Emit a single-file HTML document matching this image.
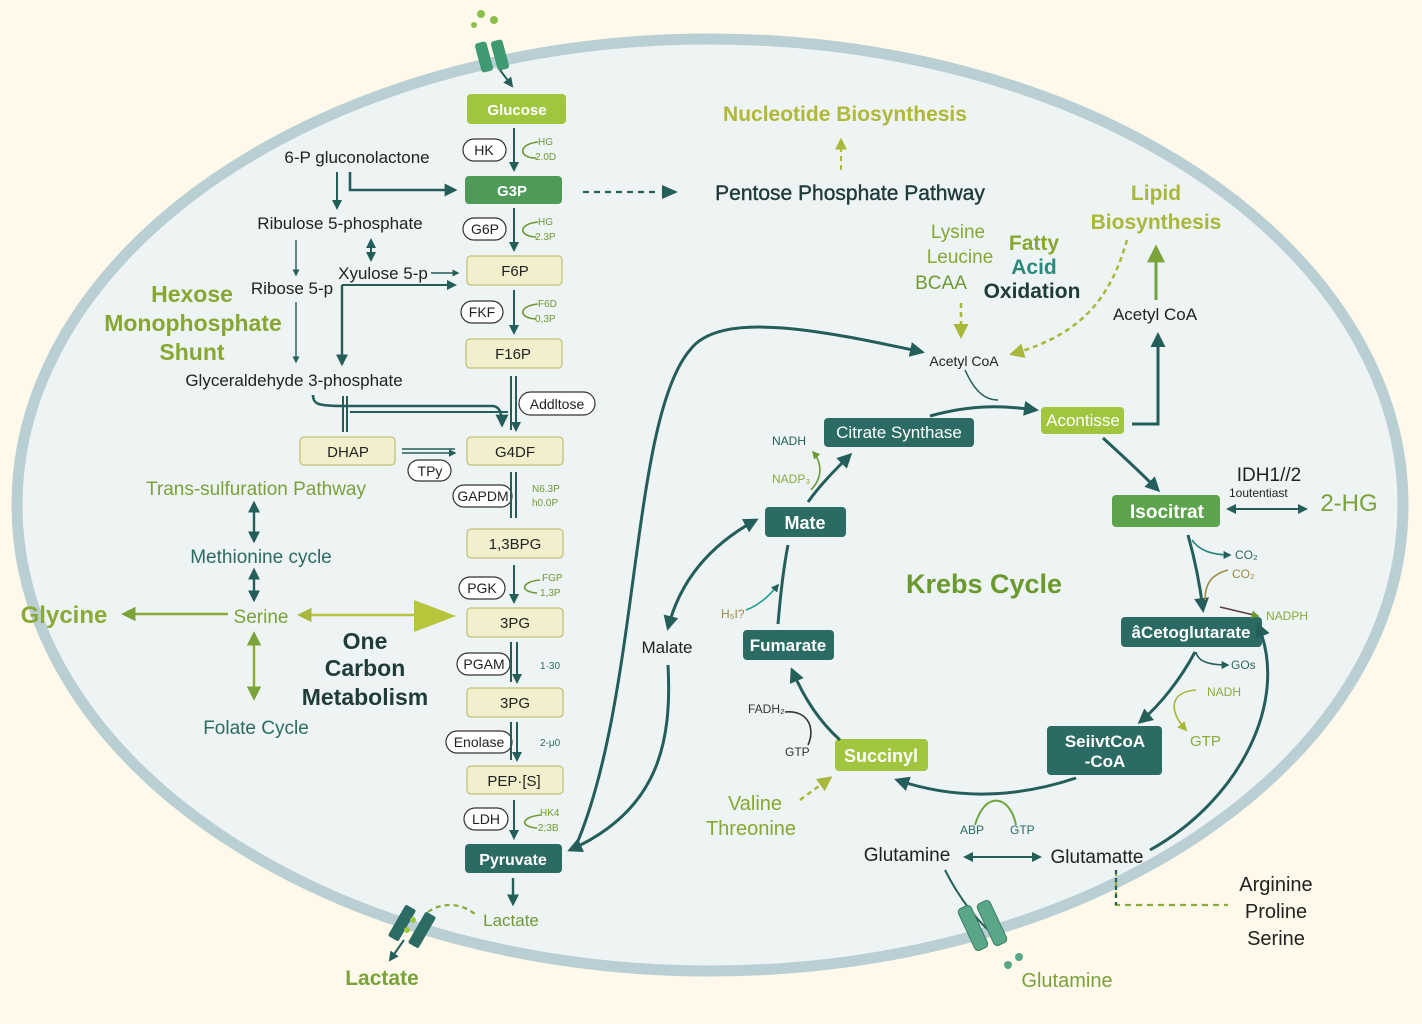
<!DOCTYPE html>
<html><head><meta charset="utf-8"><style>
html,body{margin:0;padding:0;background:#fef9ea;}
svg{display:block;font-family:"Liberation Sans",sans-serif;}
.b{font-weight:bold}
</style></head><body>
<svg width="1422" height="1024" viewBox="0 0 1422 1024" xmlns="http://www.w3.org/2000/svg">
<defs>
<marker id="ad" viewBox="0 0 10 10" refX="8" refY="5" markerWidth="5" markerHeight="5" orient="auto-start-reverse"><path d="M0,0L10,5L0,10z" fill="#245e5a"/></marker>
<marker id="ag" viewBox="0 0 10 10" refX="8" refY="5" markerWidth="6" markerHeight="6" orient="auto-start-reverse"><path d="M0,0L10,5L0,10z" fill="#7aa33a"/></marker>
<marker id="ay" viewBox="0 0 10 10" refX="8" refY="5" markerWidth="6" markerHeight="6" orient="auto-start-reverse"><path d="M0,0L10,5L0,10z" fill="#a9b83a"/></marker>
<marker id="as" viewBox="0 0 10 10" refX="8" refY="5" markerWidth="5" markerHeight="5" orient="auto-start-reverse"><path d="M0,0L10,5L0,10z" fill="#245e5a"/></marker>
<marker id="asg" viewBox="0 0 10 10" refX="8" refY="5" markerWidth="5" markerHeight="5" orient="auto-start-reverse"><path d="M0,0L10,5L0,10z" fill="#6d9a35"/></marker>
</defs>
<rect width="1422" height="1024" fill="#fef9ea"/>
<ellipse cx="710" cy="505" rx="693" ry="466" fill="#eef3f4" stroke="#b9cfd4" stroke-width="11"/>

<g fill="#3f9a72"><rect x="478" y="42" width="12" height="30" rx="3" transform="rotate(-15 484 57)"/><rect x="494" y="40" width="12" height="30" rx="3" transform="rotate(-15 500 55)"/>
<circle cx="481" cy="14" r="4" fill="#8cc04a"/><circle cx="494" cy="20" r="4" fill="#8cc04a"/><circle cx="474" cy="25" r="3" fill="#8cc04a"/></g>
<path d="M500 70 L512 86" stroke="#245e5a" stroke-width="2" marker-end="url(#as)"/>

<g font-size="15" text-anchor="middle">
<rect x="467" y="94" width="99" height="30" rx="4" fill="#9fc63e"/><text x="517" y="115" fill="#fff" class="b">Glucose</text>
<rect x="465" y="176" width="97" height="28" rx="4" fill="#4e9a56"/><text x="512" y="196" fill="#fff" class="b">G3P</text>
<g fill="#f2f0cc" stroke="#c8c88a" stroke-width="1.5">
<rect x="467" y="256" width="95" height="29" rx="4"/><rect x="466" y="339" width="96" height="29" rx="4"/>
<rect x="467" y="437" width="96" height="28" rx="4"/><rect x="467" y="529" width="96" height="29" rx="4"/>
<rect x="467" y="608" width="96" height="29" rx="4"/><rect x="467" y="688" width="96" height="29" rx="4"/>
<rect x="467" y="766" width="96" height="28" rx="4"/><rect x="300" y="437" width="95" height="28" rx="4"/></g>
<g fill="#222"><text x="515" y="276">F6P</text><text x="513" y="359">F16P</text><text x="515" y="457">G4DF</text><text x="515" y="549">1,3BPG</text><text x="515" y="628">3PG</text><text x="515" y="708">3PG</text><text x="514" y="786">PEP·[S]</text><text x="348" y="457">DHAP</text></g>
<rect x="465" y="844" width="97" height="29" rx="4" fill="#2b6b64"/><text x="513" y="865" fill="#fff" class="b" font-size="16">Pyruvate</text>
<g fill="#fff" stroke="#333" stroke-width="1.2">
<rect x="463" y="139" width="43" height="22" rx="11"/><rect x="463" y="218" width="43" height="22" rx="11"/><rect x="461" y="301" width="42" height="22" rx="11"/>
<rect x="519" y="392" width="76" height="23" rx="11.5"/><rect x="408" y="460" width="43" height="21" rx="10.5"/><rect x="453" y="485" width="59" height="22" rx="11"/>
<rect x="459" y="577" width="46" height="22" rx="11"/><rect x="457" y="653" width="53" height="22" rx="11"/><rect x="446" y="731" width="66" height="22" rx="11"/><rect x="464" y="808" width="44" height="22" rx="11"/></g>
<g fill="#222" font-size="14"><text x="484" y="155">HK</text><text x="485" y="234">G6P</text><text x="482" y="317">FKF</text><text x="557" y="409">Addltose</text><text x="430" y="476">TPy</text><text x="483" y="501">GAPDM</text><text x="482" y="593">PGK</text><text x="484" y="669">PGAM</text><text x="479" y="747">Enolase</text><text x="486" y="824">LDH</text></g>
</g>
<g stroke="#245e5a" stroke-width="2" fill="none">
<path d="M514 128V170" marker-end="url(#as)"/><path d="M514 208V250" marker-end="url(#as)"/><path d="M514 290V333" marker-end="url(#as)"/>
<path d="M511 376V430M516 376V430" marker-end="url(#as)"/><path d="M511 472V518M516 472V518"/><path d="M514 565V602" marker-end="url(#as)"/>
<path d="M511 642V682M517 642V682" marker-end="url(#as)"/><path d="M511 722V760M517 722V760" marker-end="url(#as)"/><path d="M514 800V838" marker-end="url(#as)"/>
<path d="M513 878V904" stroke-width="2.4" marker-end="url(#ad)"/>
</g>
<g stroke="#6d9a35" stroke-width="1.6" fill="none">
<path d="M538 142 C518 144 518 158 536 158" /><path d="M538 222 C518 224 518 236 536 237"/><path d="M538 304 C518 306 518 318 536 319"/>
<path d="M540 580 C520 582 520 592 537 593"/><path d="M541 815 C520 817 520 827 537 828"/>
</g>
<g font-size="10" fill="#6d9a35"><text x="538" y="145">HG</text><text x="535" y="160">2.0D</text><text x="538" y="225">HG</text><text x="535" y="240">2.3P</text><text x="538" y="307">F6D</text><text x="535" y="322">0,3P</text>
<text x="532" y="492">N6.3P</text><text x="532" y="506">h0.0P</text><text x="542" y="581">FGP</text><text x="540" y="596">1,3P</text><text x="540" y="669" fill="#2b6b64">1·30</text><text x="540" y="746" fill="#2b6b64">2-μ0</text><text x="540" y="816">HK4</text><text x="538" y="831">2;3B</text></g>
<text x="511" y="926" font-size="17" fill="#6d9a35" text-anchor="middle">Lactate</text>

<g font-size="17" fill="#222" text-anchor="middle">
<text x="357" y="163">6-P gluconolactone</text><text x="340" y="229">Ribulose 5-phosphate</text><text x="292" y="294">Ribose 5-p</text><text x="383" y="279">Xyulose 5-p</text><text x="294" y="386">Glyceraldehyde 3-phosphate</text></g>
<g stroke="#245e5a" stroke-width="2" fill="none">
<path d="M337 172V208" marker-end="url(#as)"/><path d="M350 172V190H455" stroke-width="2.6" marker-end="url(#ad)"/>
<path d="M371 240V260" marker-end="url(#as)" marker-start="url(#as)"/><path d="M296 240V275" stroke-width="1.4" marker-end="url(#as)"/>
<path d="M431 273H458" stroke-width="1.4" marker-end="url(#as)"/><path d="M342 285H455" marker-end="url(#as)"/><path d="M342 285V364" stroke-width="2.4" marker-end="url(#ad)"/>
<path d="M296 302V362" stroke-width="1.4" marker-end="url(#as)"/>
<path d="M313 395C313 405 320 406 345 406H492C500 406 502 414 502 425" stroke-width="2.6" marker-end="url(#as)"/>
<path d="M343 396V432M347 396V432"/><path d="M350 412H508"/>
<path d="M402 449H455M402 453H455" stroke-width="1.5" marker-end="url(#as)"/>
</g>
<g font-size="23" fill="#86a832" class="b" text-anchor="middle"><text x="192" y="302">Hexose</text><text x="193" y="331">Monophosphate</text><text x="192" y="360">Shunt</text></g>

<text x="256" y="495" font-size="19" fill="#7aa23a" text-anchor="middle">Trans-sulfuration Pathway</text>
<text x="261" y="563" font-size="19" fill="#2b6b64" text-anchor="middle">Methionine cycle</text>
<text x="261" y="623" font-size="19" fill="#7aa23a" text-anchor="middle">Serine</text>
<text x="64" y="623" font-size="24" fill="#8aaa38" class="b" text-anchor="middle">Glycine</text>
<text x="256" y="734" font-size="19" fill="#2b6b64" text-anchor="middle">Folate Cycle</text>
<g font-size="23" fill="#1f3b3a" class="b" text-anchor="middle"><text x="365" y="649">One</text><text x="365" y="676">Carbon</text><text x="365" y="705">Metabolism</text></g>
<g fill="none" stroke-width="2.4">
<path d="M254 503V541" stroke="#245e5a" marker-start="url(#as)" marker-end="url(#as)"/>
<path d="M254 570V600" stroke="#245e5a" marker-start="url(#as)" marker-end="url(#as)"/>
<path d="M228 614H124" stroke="#8aaa38" marker-end="url(#ag)"/>
<path d="M300 615H420" stroke="#b8c43a" marker-start="url(#ay)"/>
<path d="M254 634V698" stroke="#8aaa38" marker-start="url(#ag)" marker-end="url(#ag)"/>
</g>
<path d="M414 600L456 616L414 632z" fill="#b8c43a"/>

<text x="845" y="121" font-size="21" fill="#b0b838" class="b" text-anchor="middle">Nucleotide Biosynthesis</text>
<path d="M841 170V140" stroke="#b0b838" stroke-width="2" stroke-dasharray="5 4" marker-end="url(#ay)"/>
<path d="M583 192H660" stroke="#245e5a" stroke-width="2.2" stroke-dasharray="6 5"/><path d="M662 185L678 192L662 199z" fill="#245e5a"/>
<text x="850" y="200" font-size="21" fill="#1e3a3a" text-anchor="middle" stroke="#1e3a3a" stroke-width="0.4">Pentose Phosphate Pathway</text>
<g font-size="21" fill="#a9b83a" class="b" text-anchor="middle"><text x="1156" y="200">Lipid</text><text x="1156" y="229">Biosynthesis</text></g>
<path d="M1156 300V248" stroke="#6da540" stroke-width="3" marker-end="url(#ag)"/>
<text x="1155" y="320" font-size="17" fill="#222" text-anchor="middle">Acetyl CoA</text>
<g font-size="19" text-anchor="middle"><text x="958" y="238" fill="#86a832">Lysine</text><text x="960" y="263" fill="#86a832">Leucine</text><text x="941" y="289" fill="#6d9a35">BCAA</text></g>
<g font-size="21" class="b" text-anchor="middle"><text x="1034" y="250" fill="#86a832">Fatty</text><text x="1034" y="274" fill="#2b8a80">Acid</text><text x="1032" y="298" fill="#1f3b3a">Oxidation</text></g>
<path d="M961 303V336" stroke="#a9b83a" stroke-width="2.5" stroke-dasharray="5 4" marker-end="url(#ay)"/>
<path d="M1127 240C1110 300 1080 335 1012 354" fill="none" stroke="#a9b83a" stroke-width="2.5" stroke-dasharray="5 4" marker-end="url(#ay)"/>
<text x="964" y="366" font-size="14" fill="#222" text-anchor="middle">Acetyl CoA</text>

<g font-size="17" text-anchor="middle" fill="#fff" class="b">
<rect x="824" y="418" width="150" height="29" rx="4" fill="#2b6b64"/><text x="899" y="438" font-weight="normal">Citrate Synthase</text>
<rect x="1041" y="407" width="83" height="27" rx="4" fill="#9fc63e"/><text x="1083" y="426" font-weight="normal">Acontisse</text>
<rect x="1112" y="495" width="108" height="32" rx="4" fill="#5da24c"/><text x="1167" y="518" font-size="19">Isocitrat</text>
<rect x="1121" y="617" width="141" height="30" rx="4" fill="#2b6b64"/><text x="1191" y="638">âCetoglutarate</text>
<rect x="1047" y="726" width="115" height="49" rx="4" fill="#2b6b64"/><text x="1105" y="747">SeiivtCoA</text><text x="1105" y="767">-CoA</text>
<rect x="835" y="739" width="93" height="32" rx="4" fill="#a0c640"/><text x="881" y="762" font-size="18">Succinyl</text>
<rect x="743" y="630" width="91" height="30" rx="4" fill="#2b6b64"/><text x="788" y="651">Fumarate</text>
<rect x="765" y="507" width="81" height="30" rx="4" fill="#2b6b64"/><text x="805" y="529" font-size="18">Mate</text>
</g>
<text x="984" y="593" font-size="27" fill="#6a9a2e" class="b" text-anchor="middle">Krebs Cycle</text>
<g stroke="#245e5a" stroke-width="3" fill="none">
<path d="M930 416C970 405 1000 405 1036 410" marker-end="url(#ad)"/>
<path d="M965 370C975 392 985 400 998 400" stroke-width="1.5"/>
<path d="M1132 424H1158V335" marker-end="url(#ad)"/>
<path d="M1103 438C1125 458 1140 472 1158 490" marker-end="url(#ad)"/>
<path d="M1188 535C1195 560 1200 585 1203 610" marker-end="url(#ad)"/>
<path d="M1195 652C1180 680 1160 705 1140 722" marker-end="url(#ad)"/>
<path d="M1076 778C1010 800 950 798 897 780" marker-end="url(#ad)"/>
<path d="M840 740C820 722 805 700 792 670" marker-end="url(#ad)"/>
<path d="M778 624C780 600 783 570 788 545"/>
<path d="M808 502C820 485 835 470 850 455" marker-end="url(#ad)"/>
<path d="M575 848C640 700 630 420 690 350C720 310 820 330 922 352" marker-end="url(#ad)"/>
<path d="M668 665C672 740 660 810 570 850" marker-end="url(#ad)"/>
<path d="M668 628C680 580 710 545 756 520" marker-start="url(#ad)" marker-end="url(#ad)"/>
<path d="M1150 850C1240 800 1290 700 1258 625" marker-end="url(#ad)"/>
<path d="M945 870C960 900 980 925 1000 940" stroke-width="2"/>
</g>
<path d="M1116 870V905H1228" fill="none" stroke="#8aaa38" stroke-width="2.2" stroke-dasharray="6 5"/>
<path d="M1116 870V905" stroke="#245e5a" stroke-width="2.2" stroke-dasharray="4 4"/>
<g fill="none" stroke-width="1.6">
<path d="M1192 540C1200 552 1215 555 1230 555" stroke="#2b8a80" marker-end="url(#as)"/>
<path d="M1228 570C1210 575 1205 585 1205 600" stroke="#9a8a40"/>
<path d="M1220 607L1258 616" stroke="#5a3a40" marker-end="url(#asg)"/>
<path d="M1196 652C1198 662 1210 665 1228 665" stroke="#245e5a" marker-end="url(#as)"/>
<path d="M1196 690C1170 692 1168 710 1186 730" stroke="#a9b83a" marker-end="url(#ay)"/>
<path d="M811 490C825 475 820 460 813 452" stroke="#6d9a35" marker-end="url(#asg)"/>
<path d="M746 610C760 605 770 595 778 585" stroke="#1aa090" marker-end="url(#as)"/>
<path d="M785 712C810 710 815 730 808 745" stroke="#333"/>
<path d="M975 825C985 790 1010 795 1016 825" stroke="#6da540" stroke-width="2"/>
<path d="M965 857H1040" stroke="#245e5a" stroke-width="2" marker-start="url(#as)" marker-end="url(#as)"/>
<path d="M1228 509H1306" stroke="#245e5a" stroke-width="2" marker-start="url(#as)" marker-end="url(#as)"/>
<path d="M800 800L830 778" stroke="#a9b83a" stroke-width="2.5" stroke-dasharray="5 4" marker-end="url(#ay)"/>
</g>
<g font-size="12">
<text x="772" y="445" fill="#245e5a">NADH</text><text x="772" y="483" fill="#8aaa38">NADP₃</text><text x="721" y="618" fill="#9a8a40">H₅I?</text>
<text x="748" y="713" fill="#333">FADH₂</text><text x="785" y="756" fill="#333">GTP</text>
<text x="1235" y="559" fill="#2b6b64">CO₂</text><text x="1232" y="578" fill="#9a8a40">CO₂</text><text x="1266" y="620" fill="#8aaa38">NADPH</text>
<text x="1231" y="669" fill="#2b6b64">GOs</text><text x="1207" y="696" fill="#8aaa38">NADH</text><text x="1190" y="746" fill="#8aaa38" font-size="15">GTP</text>
<text x="960" y="834" fill="#2b6b64">ABP</text><text x="1010" y="834" fill="#2b6b64">GTP</text>
<text x="1229" y="497" fill="#222">1outentiast</text></g>
<text x="1269" y="481" font-size="19" fill="#222" text-anchor="middle">IDH1//2</text>
<text x="1349" y="511" font-size="24" fill="#7aa23a" text-anchor="middle">2-HG</text>
<text x="667" y="653" font-size="17" fill="#222" text-anchor="middle">Malate</text>
<g font-size="20" fill="#86a832" text-anchor="middle"><text x="755" y="810">Valine</text><text x="751" y="835">Threonine</text></g>
<text x="907" y="861" font-size="19" fill="#222" text-anchor="middle">Glutamine</text>
<text x="1097" y="863" font-size="19" fill="#222" text-anchor="middle">Glutamatte</text>
<g font-size="20" fill="#222" text-anchor="middle"><text x="1276" y="891">Arginine</text><text x="1276" y="918">Proline</text><text x="1276" y="945">Serine</text></g>

<g fill="#5aa688" stroke="#3b7d64" stroke-width="1"><rect x="966" y="905" width="14" height="46" rx="4" transform="rotate(-25 973 928)"/><rect x="985" y="900" width="14" height="46" rx="4" transform="rotate(-25 992 923)"/></g>
<circle cx="1008" cy="965" r="4" fill="#5aa688"/><circle cx="1019" cy="957" r="4" fill="#5aa688"/>
<text x="1067" y="987" font-size="20" fill="#7aa23a" text-anchor="middle">Glutamine</text>
<g fill="#2b6b64"><rect x="396" y="905" width="12" height="36" rx="2" transform="rotate(30 402 923)"/><rect x="416" y="912" width="12" height="36" rx="2" transform="rotate(30 422 930)"/></g>
<circle cx="407" cy="930" r="3" fill="#9fc63e"/><circle cx="413" cy="920" r="3" fill="#9fc63e"/>
<path d="M404 940L390 960" stroke="#245e5a" stroke-width="2" marker-end="url(#ad)"/>
<path d="M428 912C445 900 465 905 476 915" fill="none" stroke="#8aaa38" stroke-width="2.2" stroke-dasharray="5 4"/>
<text x="382" y="985" font-size="21" fill="#7aa23a" class="b" text-anchor="middle">Lactate</text>
</svg>
</body></html>
